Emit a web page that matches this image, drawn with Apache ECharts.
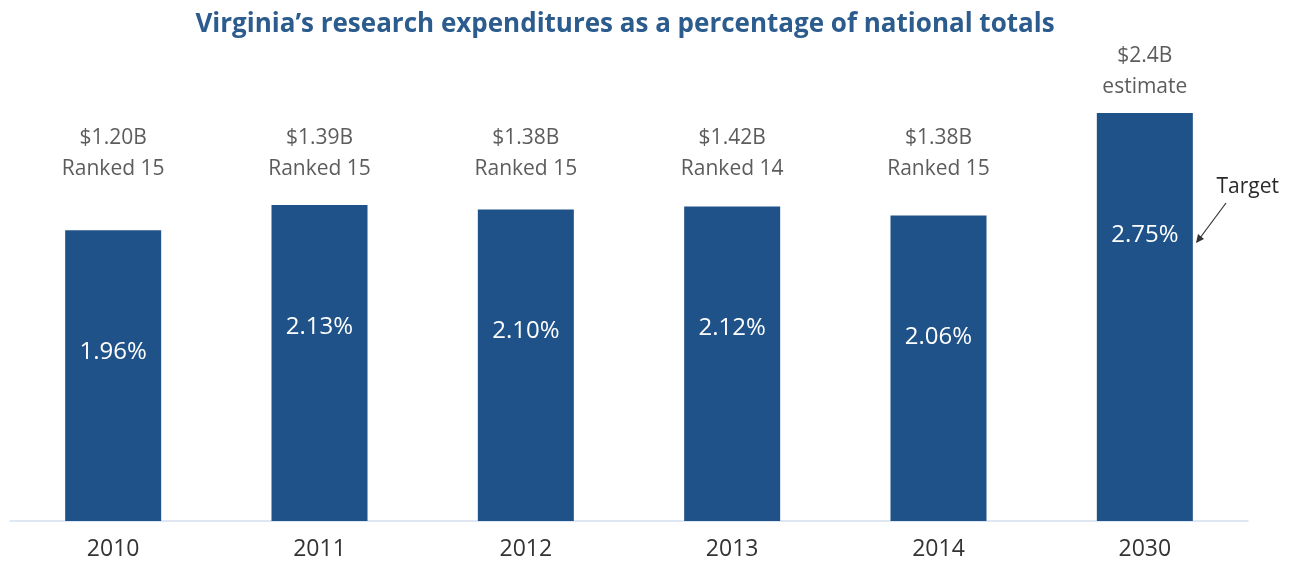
<!DOCTYPE html>
<html><head><meta charset="utf-8">
<script src="https://cdn.jsdelivr.net/npm/echarts@6/dist/echarts.min.js"></script>
<style>html,body{margin:0;padding:0;background:#fff}#c{width:1291px;height:561px}</style>
</head><body><div id="c"></div>
<script>
var years = ['2010', '2011', '2012', '2013', '2014', '2030'];
var sharePct = [1.96, 2.13, 2.10, 2.12, 2.06, 2.75];
var amounts = ['$1.20B', '$1.39B', '$1.38B', '$1.42B', '$1.38B', '$2.4B'];
var notes = ['Ranked 15', 'Ranked 15', 'Ranked 15', 'Ranked 14', 'Ranked 15', 'estimate'];
var titleText = 'Virginia\u2019s research expenditures as a percentage of national totals';

var FONT = '"Open Sans", "Liberation Sans", sans-serif';
var BAR = '#1f5288';
var LABEL_LEVEL = 2.197; // common baseline for the upper annotations

var chart = echarts.init(document.getElementById('c'), null, {renderer: 'canvas'});
chart.setOption({
  animation: false,
  title: {
    text: titleText, left: 620, textAlign: 'center', top: 7,
    textStyle: {color: '#2b5c8d', fontSize: 26, fontWeight: 'bold', fontFamily: FONT}
  },
  grid: {left: 10, right: 43, top: 76, bottom: 40, containLabel: false},
  xAxis: {
    type: 'category', data: years,
    axisLine: {lineStyle: {color: '#d3e0ee', width: 1.5}},
    axisTick: {show: false},
    axisLabel: {color: '#333333', fontSize: 23, fontFamily: FONT, margin: 17}
  },
  yAxis: {type: 'value', min: 0, max: 3, show: false, splitLine: {show: false}},
  series: [
    {
      type: 'bar', data: sharePct, barWidth: 96,
      itemStyle: {color: BAR},
      label: {
        show: true, position: 'insideTop', distance: 110,
        color: '#ffffff', fontSize: 24, fontFamily: FONT,
        formatter: function (p) { return p.value.toFixed(2) + '%'; }
      }
    },
    {
      type: 'scatter', symbolSize: 0, silent: true,
      data: years.map(function (y, i) { return [y, Math.max(sharePct[i], LABEL_LEVEL)]; }),
      label: {
        show: true, position: 'top', distance: 11,
        color: '#333333', fontSize: 21, fontFamily: FONT, lineHeight: 31, align: 'center',
        formatter: function (p) { return amounts[p.dataIndex] + '\n' + notes[p.dataIndex]; }
      }
    }
  ],
  graphic: [
    {type: 'text', right: 12, top: 177,
     style: {text: 'Target', fill: '#2a2a2a', fontSize: 21, fontFamily: FONT}},
    {type: 'line', shape: {x1: 1226, y1: 203, x2: 1197, y2: 242},
     style: {stroke: '#333', lineWidth: 1.2}},
    {type: 'polygon', shape: {points: [[1196, 243], [1198, 234], [1204, 239]]},
     style: {fill: '#333'}}
  ]
});
</script></body></html>
